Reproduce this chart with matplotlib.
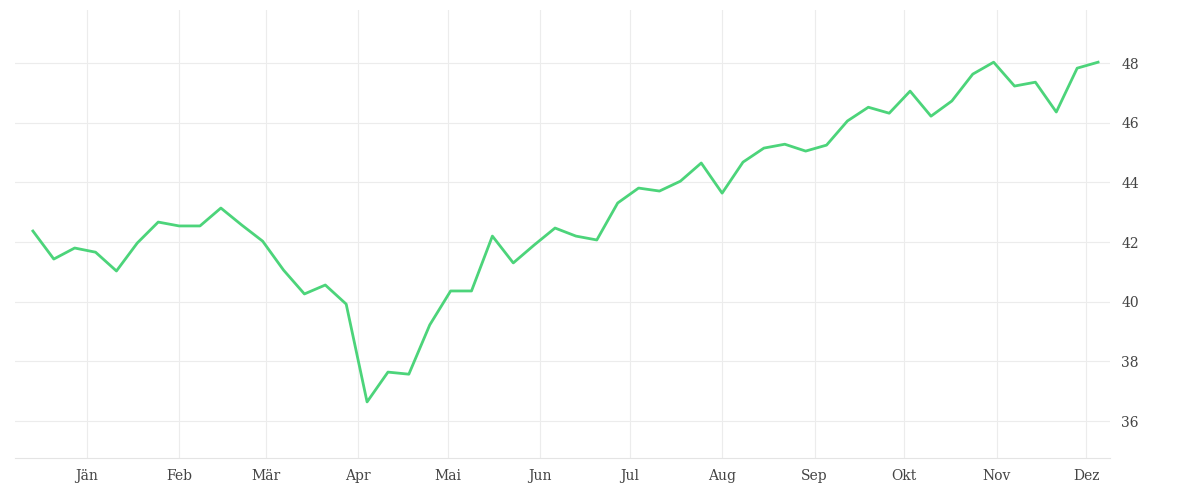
import matplotlib
matplotlib.use("Agg")
import matplotlib.pyplot as plt
import pandas as pd

# weekly values
start_date = "2019-12-14"
values = [
    42.37, 41.43, 41.80, 41.66, 41.03, 41.97, 42.67, 42.54, 42.54, 43.14,
    42.57, 42.03, 41.06, 40.26, 40.56, 39.92, 36.64, 37.64, 37.57, 39.22,
    40.36, 40.36, 42.20, 41.30, 41.90, 42.47, 42.20, 42.07, 43.31, 43.81,
    43.71, 44.04, 44.65, 43.64, 44.68, 45.15, 45.28, 45.05, 45.25, 46.06,
    46.52, 46.32, 47.06, 46.22, 46.73, 47.63, 48.03, 47.23, 47.36, 46.36,
    47.83, 48.03,
]
month_labels = ["Jän", "Feb", "Mär", "Apr", "Mai", "Jun",
                "Jul", "Aug", "Sep", "Okt", "Nov", "Dez"]
y_ticks = [36, 38, 40, 42, 44, 46, 48]

dates = pd.date_range(start_date, periods=len(values), freq="7D")
month_ticks = pd.date_range("2020-01-01", periods=12, freq="MS")

plt.rcParams["font.family"] = ["DejaVu Serif"]
fig = plt.figure(figsize=(12, 5), dpi=100)
ax = fig.add_axes([15 / 1200, 42 / 500, 1095 / 1200, 448 / 500])

ax.plot(dates, values, color="#4cd47a", lw=2.0, solid_joinstyle="round")

ax.set_xlim(pd.Timestamp("2019-12-08"), pd.Timestamp("2020-12-09"))
ax.set_ylim(34.76, 49.78)
ax.set_xticks(month_ticks)
ax.set_xticklabels(month_labels)
ax.set_yticks(y_ticks)
ax.yaxis.tick_right()

ax.grid(True, color="#ececec", lw=0.8)
for side in ["top", "right", "left"]:
    ax.spines[side].set_visible(False)
ax.spines["bottom"].set_color("#e4e4e4")
ax.tick_params(length=0, labelsize=10, colors="#444444", pad=8)

fig.savefig("out.png", dpi=100)
